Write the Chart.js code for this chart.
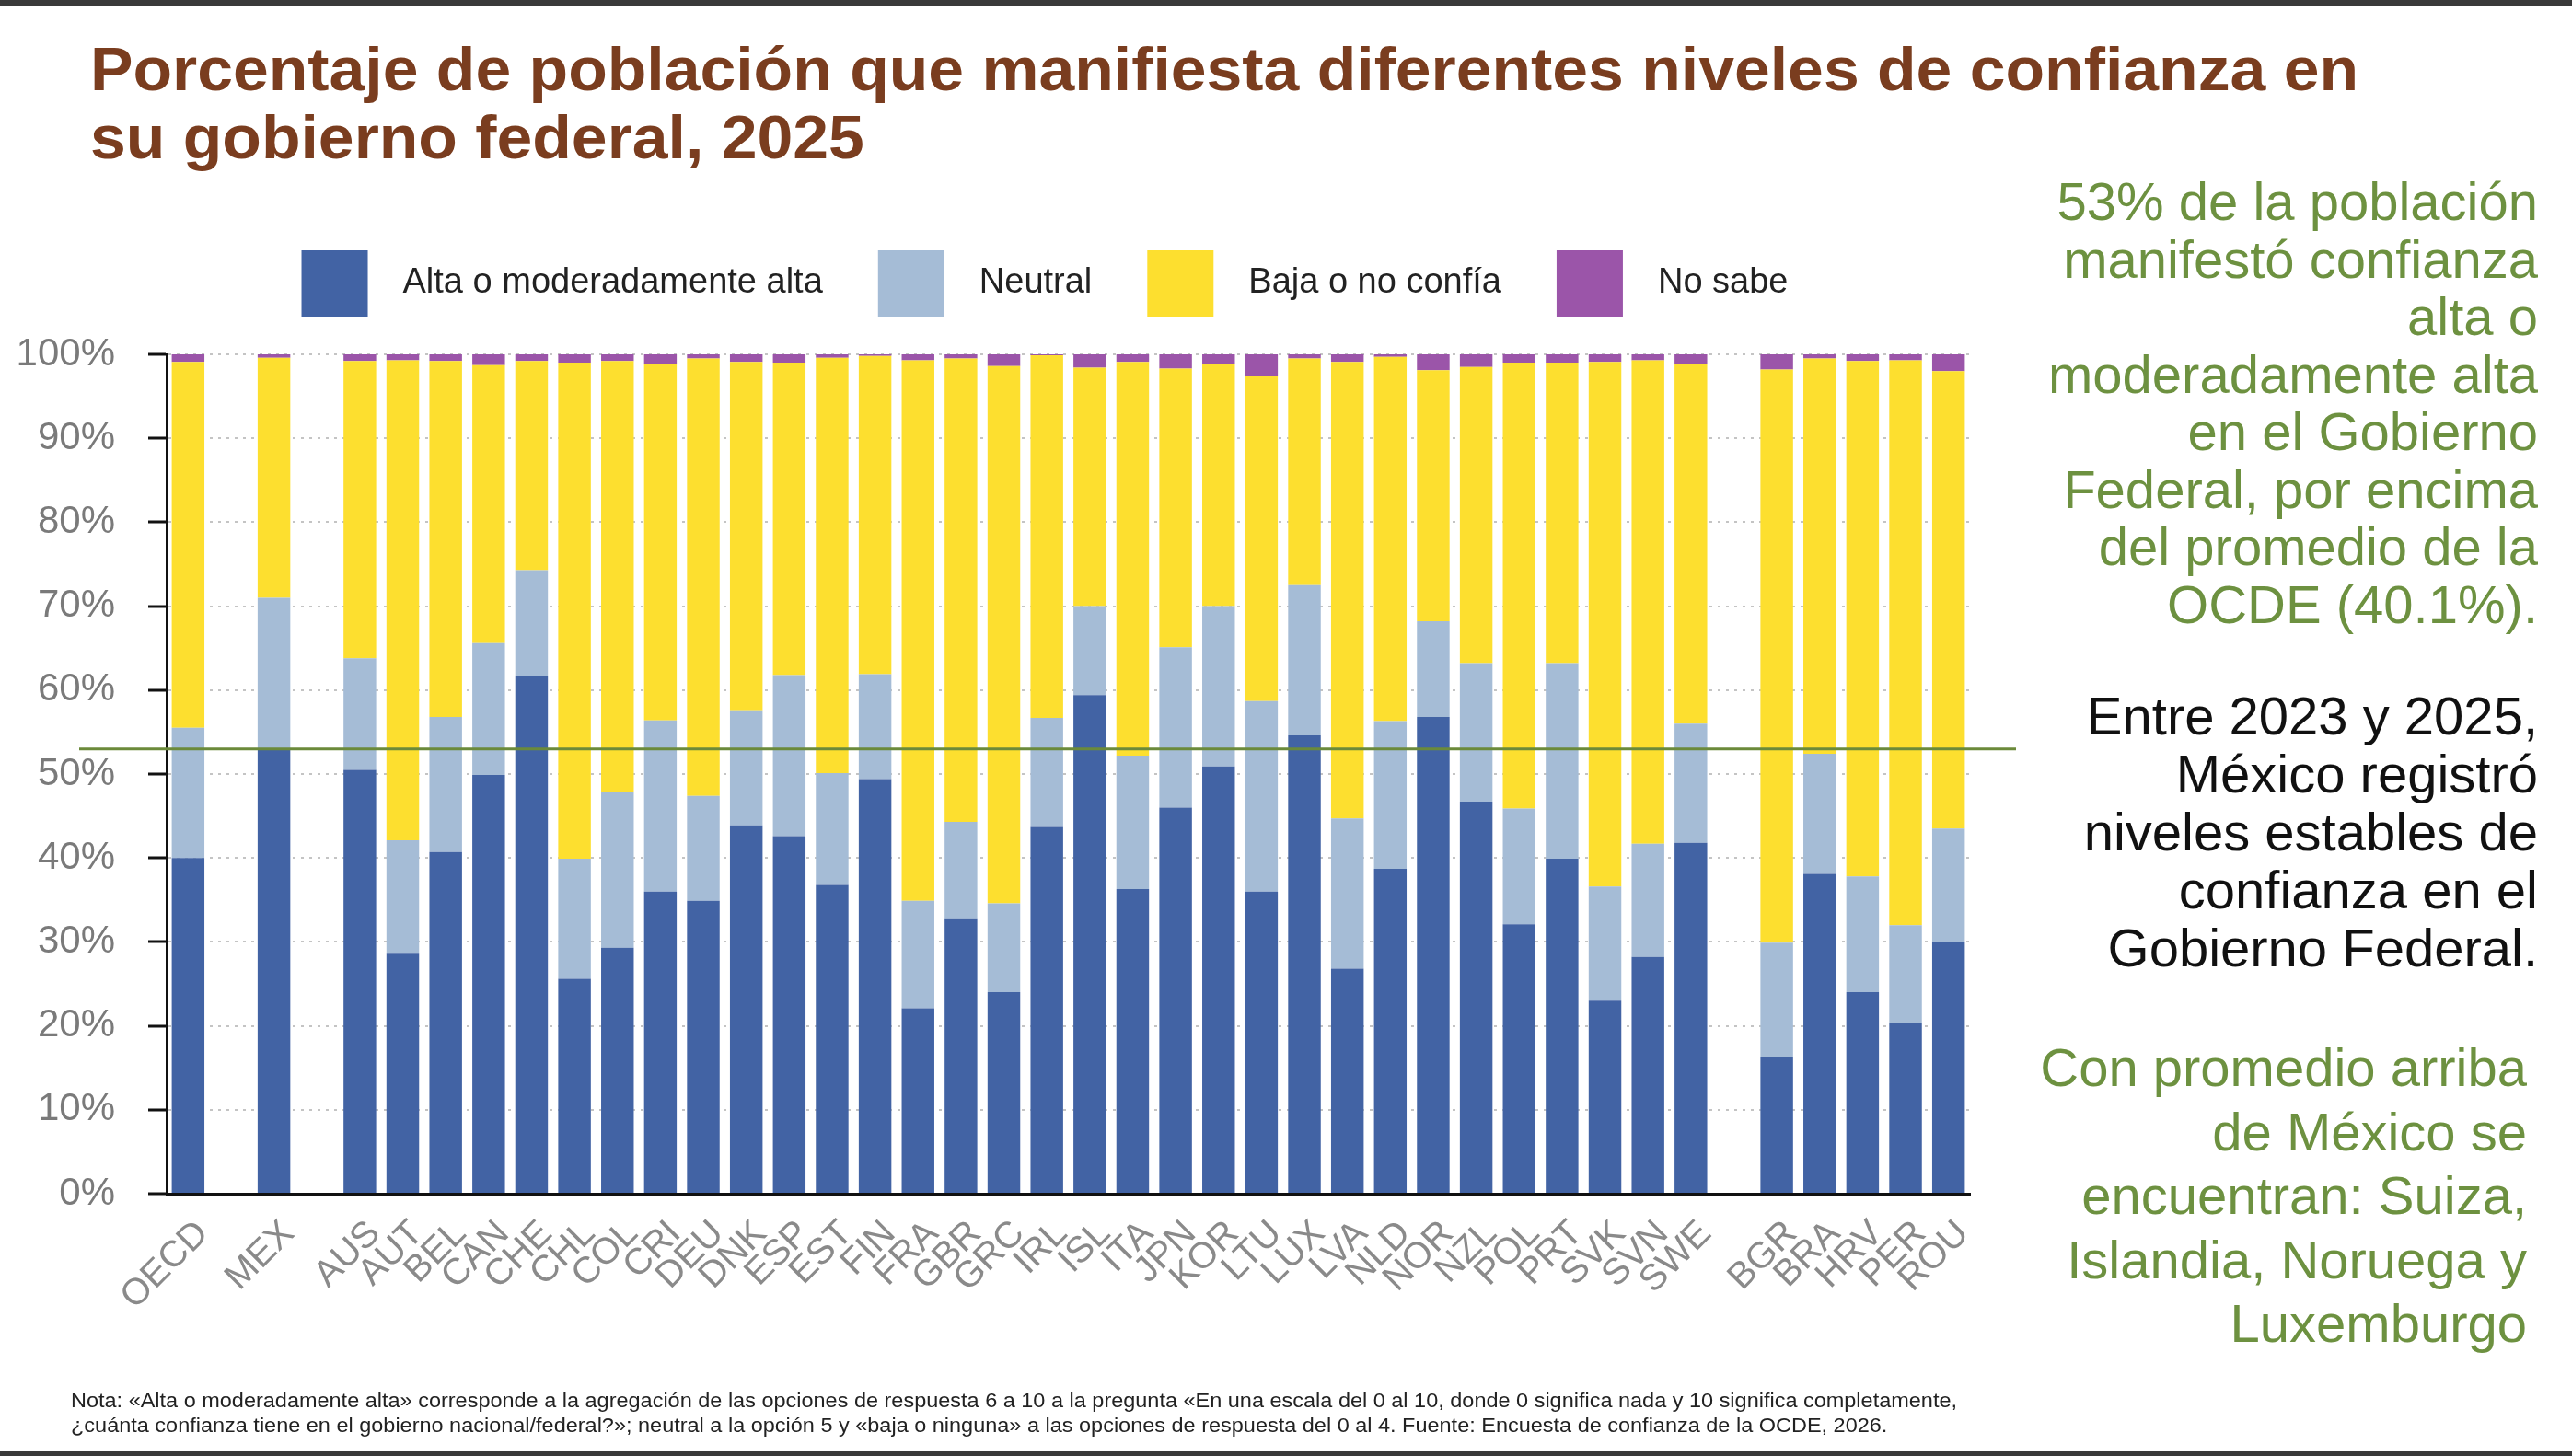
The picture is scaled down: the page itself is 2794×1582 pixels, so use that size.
<!DOCTYPE html>
<html lang="es">
<head>
<meta charset="utf-8">
<title>Confianza en el gobierno federal, 2025</title>
<script src="https://cdn.jsdelivr.net/npm/chart.js@4.4.1/dist/chart.umd.min.js"></script>
<style>
  html, body { margin: 0; padding: 0; background: #ffffff; }
  body { width: 2794px; height: 1582px; position: relative; overflow: hidden; font-family: 'Liberation Sans', Arial, sans-serif; }
  #chart { position: absolute; left: 0; top: 0; }
  .topbar { position: absolute; left: 0; top: 0; width: 2794px; height: 6px; background: #3a3a3a; }
  .botbar { position: absolute; left: 0; top: 1577px; width: 2794px; height: 5px; background: #3a3a3a; }
  .title { position: absolute; left: 98px; top: 38px; font-size: 66px; line-height: 74px; font-weight: bold; color: #7a3d1f; white-space: nowrap; }
  .title span { display: inline-block; transform-origin: 0 0; }
  .side { position: absolute; right: 37px; text-align: right; font-size: 58px; white-space: nowrap; }
  .b1 { top: 188px; line-height: 62.5px; color: #6d9140; }
  .b2 { top: 746px; line-height: 63px; color: #111111; }
  .b3 { top: 1125px; line-height: 69.5px; color: #6d9140; right: 49px; }
  .note { position: absolute; left: 77px; top: 1508px; font-size: 22px; line-height: 27px; color: #222; white-space: nowrap; }
  .note span { display: inline-block; transform-origin: 0 0; }
</style>
</head>
<body>
<canvas id="chart" width="2794" height="1582"></canvas>
<div class="topbar"></div>
<div class="botbar"></div>
<div class="title"><span data-w="2464">Porcentaje de población que manifiesta diferentes niveles de confianza en</span><br><span data-s="1">su gobierno federal, 2025</span></div>
<div class="side b1">53% de la población<br>manifestó confianza<br>alta o<br>moderadamente alta<br>en el Gobierno<br>Federal, por encima<br>del promedio de la<br>OCDE (40.1%).</div>
<div class="side b2">Entre 2023 y 2025,<br>México registró<br>niveles estables de<br>confianza en el<br>Gobierno Federal.</div>
<div class="side b3">Con promedio arriba<br>de México se<br>encuentran: Suiza,<br>Islandia, Noruega y<br>Luxemburgo</div>
<div class="note"><span data-w="2049">Nota: «Alta o moderadamente alta» corresponde a la agregación de las opciones de respuesta 6 a 10 a la pregunta «En una escala del 0 al 10, donde 0 significa nada y 10 significa completamente,</span><br><span data-s="1">¿cuánta confianza tiene en el gobierno nacional/federal?»; neutral a la opción 5 y «baja o ninguna» a las opciones de respuesta del 0 al 4. Fuente: Encuesta de confianza de la OCDE, 2026.</span></div>
<script>
// ---------- DATA ----------
const categories = ['OECD','','MEX','','AUS','AUT','BEL','CAN','CHE','CHL','COL','CRI','DEU','DNK','ESP','EST','FIN','FRA','GBR','GRC','IRL','ISL','ITA','JPN','KOR','LTU','LUX','LVA','NLD','NOR','NZL','POL','PRT','SVK','SVN','SWE','','BGR','BRA','HRV','PER','ROU'];
const alta    = [40.0,null,53.0,null,50.5,28.6,40.7,49.9,61.7,25.6,29.3,36.0,34.9,43.9,42.6,36.8,49.4,22.1,32.8,24.0,43.7,59.4,36.3,46.0,50.9,36.0,54.6,26.8,38.7,56.8,46.7,32.1,39.9,23.0,28.2,41.8,null,16.3,38.1,24.0,20.4,30.0];
const neutral = [15.5,null,18.0,null,13.3,13.5,16.1,15.7,12.6,14.3,18.6,20.4,12.5,13.7,19.2,13.3,12.5,12.8,11.5,10.6,13.0,10.6,15.9,19.1,19.1,22.7,17.9,17.9,17.6,11.4,16.5,13.8,23.3,13.6,13.5,14.2,null,13.6,14.3,13.8,11.6,13.5];
const baja    = [43.6,null,28.6,null,35.4,57.2,42.4,33.1,24.9,59.1,51.3,42.5,52.1,41.5,37.2,49.5,37.9,64.4,55.2,64.0,43.2,28.4,46.9,33.2,28.9,38.7,27.0,54.4,43.4,29.9,35.3,53.1,35.8,62.5,57.6,42.9,null,68.3,47.1,61.4,67.3,54.5];
const noSabe  = [0.9,null,0.4,null,0.8,0.7,0.8,1.3,0.8,1.0,0.8,1.1,0.5,0.9,1.0,0.4,0.2,0.7,0.5,1.4,0.1,1.6,0.9,1.7,1.1,2.6,0.5,0.9,0.3,1.9,1.5,1.0,1.0,0.9,0.7,1.1,null,1.8,0.5,0.8,0.7,2.0];
const seriesNames = ['Alta o moderadamente alta','Neutral','Baja o no confía','No sabe'];
const yTickValues = [0,10,20,30,40,50,60,70,80,90,100];
const mexicoLevel = 53;   // referencia: nivel de México

// ---------- text fitting ----------
document.querySelectorAll('[data-w]').forEach(el => {
  const w = el.getBoundingClientRect().width;
  const target = parseFloat(el.getAttribute('data-w'));
  const s = target / w;
  el.style.transform = 'scaleX(' + s + ')';
  const sib = el.parentNode.querySelector('[data-s]');
  if (sib) sib.style.transform = 'scaleX(' + s + ')';
});

// ---------- chart ----------
Chart.defaults.font.family = "'Liberation Sans', Arial, sans-serif";

const legendGap = {
  id: 'legendGap',
  beforeInit(chart) {
    const lg = chart.legend;
    const origFit = lg.fit;
    lg.fit = function () { origFit.bind(lg)(); this.height += 31; };
    const origDraw = lg.draw;
    lg.draw = function () {
      const ctx = chart.ctx;
      ctx.save();
      ctx.translate(65, 0);
      origDraw.bind(lg)();
      ctx.restore();
    };
  }
};

const refLine = {
  id: 'refLine',
  afterDatasetsDraw(chart) {
    const {ctx, chartArea, scales} = chart;
    const y = scales.y.getPixelForValue(mexicoLevel);
    ctx.save();
    ctx.strokeStyle = '#6b8a3a';
    ctx.lineWidth = 3;
    ctx.beginPath();
    ctx.moveTo(chartArea.left - 95, y);
    ctx.lineTo(chartArea.right + 50, y);
    ctx.stroke();
    ctx.restore();
  }
};

const colors = ['#4263a4', '#a5bcd6', '#fddf2f', '#9b55a9'];
const values = [alta, neutral, baja, noSabe];

new Chart(document.getElementById('chart'), {
  type: 'bar',
  data: {
    labels: categories,
    datasets: values.map((v, i) => ({
      label: seriesNames[i],
      data: v,
      backgroundColor: colors[i],
      borderWidth: 0,
      barPercentage: 0.76,
      categoryPercentage: 1.0
    }))
  },
  options: {
    responsive: false,
    animation: false,
    devicePixelRatio: 1,
    layout: { padding: { left: 0, right: 654, top: 212, bottom: 0 } },
    plugins: {
      legend: {
        position: 'top',
        align: 'center',
        labels: {
          boxWidth: 72, boxHeight: 72, padding: 60,
          color: '#222222',
          font: { size: 38 },
          generateLabels(chart) {
            const items = Chart.defaults.plugins.legend.labels.generateLabels(chart);
            items.forEach(it => { it.text = '\u2002' + it.text; });
            return items;
          }
        }
      },
      tooltip: { enabled: false }
    },
    scales: {
      x: {
        stacked: true,
        grid: { display: false },
        border: { color: '#111111', width: 3 },
        ticks: {
          color: '#8a8a8a',
          font: { size: 40 },
          minRotation: 45, maxRotation: 45,
          autoSkip: false,
          padding: 12,
          labelOffset: 16
        },
        afterFit(s) { s.height = 285; }
      },
      y: {
        stacked: true,
        min: 0, max: 100,
        afterBuildTicks(s) { s.ticks = yTickValues.map(v => ({ value: v })); },
        ticks: {
          callback: v => v + '%',
          color: '#7a7a7a',
          font: { size: 42 },
          padding: 36
        },
        grid: { color: '#c4c4c4', lineWidth: 2, tickColor: '#111111', tickLength: 20, tickWidth: 3 },
        border: { color: '#111111', width: 3, dash: [3, 6] },
        afterFit(s) { s.width = 181; }
      }
    }
  },
  plugins: [legendGap, refLine]
});
</script>
</body>
</html>
